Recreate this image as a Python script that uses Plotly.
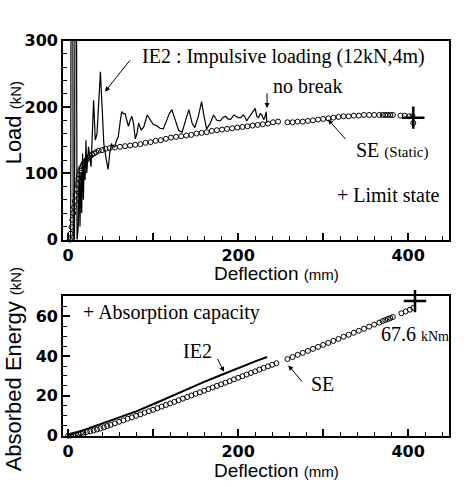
import plotly.graph_objects as go

# ---------------- data ----------------
# Top: load vs deflection
ie2_def = [0, 3, 4.5, 6, 7.5, 9, 10.5, 12, 13, 14, 15, 16, 17, 18, 19, 20, 21, 22, 24, 27,
           30, 32, 34, 36, 38, 40, 42, 45, 47, 49, 51, 53, 55, 57, 59, 61, 63, 65, 67, 69,
           71, 73, 75, 77, 79, 81, 83, 86, 89, 93, 96, 100, 104, 108, 112, 116, 119, 122, 126, 130,
           134, 138, 142, 146, 149, 153, 157, 160, 163, 167, 171, 175, 179, 182, 185, 188, 191, 195, 198, 200,
           203, 206, 208, 210, 213, 216, 220, 222, 224, 226, 228, 230, 231.5, 233, 233.7]
ie2_load = [0, 0, 1186, 0, 0, 900, 0, 20, 110, 20, 100, 40, 130, 60, 120, 90, 150, 100, 140, 110,
            210, 150, 160, 200, 253, 200, 145, 120, 106, 130, 145, 140, 140, 150, 155, 175, 193, 190, 190, 180,
            171, 180, 186, 175, 152, 160, 176, 165, 170, 188, 182, 174, 172, 168, 167, 180, 190, 196, 180, 165,
            162, 180, 196, 175, 169, 185, 208, 185, 167, 175, 188, 180, 179, 184, 186, 182, 181, 188, 186, 184,
            184, 188, 185, 179, 185, 191, 198, 186, 184, 190, 188, 181, 185, 193, 176]

se_def = [2, 3, 4, 5, 6, 7, 8, 9, 10, 11, 12, 13, 14, 15.5, 17, 18.5, 20, 22, 24, 26,
          28, 30.5, 33, 36, 40, 44, 49, 55, 61, 67, 73, 79, 85, 91, 97, 103, 109, 115, 121, 127,
          133, 139, 145, 151, 157, 163, 169, 175, 181, 187, 193, 199, 205, 211, 217, 223, 229, 235, 241, 247,
          258, 264, 270, 276, 282, 288, 294, 300, 306, 312, 318, 324, 330, 336, 342, 348, 354, 360, 366, 370,
          373, 376, 379, 382, 391, 396, 401, 405, 406]
se_load = [0, 9, 19, 30, 40, 49, 58, 67, 76, 84, 92, 98, 104, 108, 112, 115, 118, 121, 124, 126,
           128, 130, 132, 134, 135, 137, 138, 139, 140, 141, 142, 143, 144, 146, 147, 149, 150, 152, 154, 155,
           156, 157, 158, 160, 161, 162, 164, 165, 166, 167, 168, 169, 170, 171, 172, 173, 174, 175, 177, 178,
           177, 177, 178, 178, 179, 180, 181, 182, 183, 184, 185, 186, 186, 187, 187, 188, 188, 188, 188, 188,
           188, 188, 188, 188, 187, 187, 186, 186, 176]

limit_def = [406]
limit_load = [184]

# Bottom: absorbed energy vs deflection
ie2_e_def = [0, 10, 20, 40, 60, 80, 100, 120, 140, 160, 180, 200, 220, 234]
ie2_e = [0, 1.5, 3, 6, 9.2, 12.2, 15.8, 19.6, 23.4, 27, 30.5, 34, 37.3, 39.5]

se_e_def = [0, 3, 6, 9, 12, 15, 18, 22, 26, 30, 34, 38, 42, 46, 50, 55, 60, 65, 70, 75,
            80, 85, 90, 95, 100, 105, 110, 115, 120, 125, 130, 135, 140, 145, 150, 155, 160, 165, 170, 175,
            180, 185, 190, 195, 200, 205, 210, 215, 220, 225, 230, 235, 240, 245,
            258, 264, 270, 276, 282, 288, 294, 300, 306, 312, 318, 324, 330, 336, 342, 348,
            354, 360, 366, 370, 373, 376, 379, 382, 392, 397, 402, 406]
se_e = [0, 0.1, 0.4, 0.7, 1.0, 1.3, 1.6, 1.9, 2.2, 2.6, 3.1, 3.6, 4.2, 4.8, 5.4, 6.2, 7.0, 7.7, 8.5, 9.2,
        10.0, 10.7, 11.5, 12.3, 13.0, 13.8, 14.6, 15.4, 16.2, 17.0, 17.8, 18.6, 19.4, 20.2, 21.0, 21.8, 22.6, 23.4, 24.2, 25.0,
        25.8, 26.6, 27.4, 28.3, 29.1, 29.9, 30.7, 31.5, 32.3, 33.2, 34.0, 34.8, 35.6, 36.4,
        38.5, 39.5, 40.6, 41.6, 42.6, 43.6, 44.6, 45.6, 46.6, 47.6, 48.6, 49.7, 50.7, 51.7, 52.7, 53.7,
        54.8, 55.8, 56.8, 57.6, 58.1, 58.6, 59.1, 59.6, 61.5, 62.4, 63.3, 64.2]

cap_def = [408]
cap_e = [67.6]

x_tickvals = [0, 100, 200, 300, 400]
x_ticktext = ["0", "", "200", "", "400"]
load_tickvals = [0, 100, 200, 300]
energy_tickvals = [0, 20, 40, 60]

# ---------------- figure ----------------
W, H = 472, 487
fig = go.Figure()

fig.add_trace(go.Scatter(x=ie2_def, y=ie2_load, mode="lines",
                         line=dict(color="black", width=1.2), xaxis="x", yaxis="y"))
fig.add_trace(go.Scatter(x=se_def, y=se_load, mode="markers", cliponaxis=False,
                         marker=dict(symbol="circle-open", size=5, color="black", line=dict(width=1)),
                         xaxis="x", yaxis="y"))
fig.add_trace(go.Scatter(x=limit_def, y=limit_load, mode="markers",
                         marker=dict(symbol="cross-thin-open", size=16, color="black",
                                     line=dict(width=2.5, color="black")),
                         xaxis="x", yaxis="y"))

fig.add_trace(go.Scatter(x=ie2_e_def, y=ie2_e, mode="lines",
                         line=dict(color="black", width=2), xaxis="x2", yaxis="y2"))
fig.add_trace(go.Scatter(x=se_e_def, y=se_e, mode="markers", cliponaxis=False,
                         marker=dict(symbol="circle-open", size=5, color="black", line=dict(width=1)),
                         xaxis="x2", yaxis="y2"))
fig.add_trace(go.Scatter(x=cap_def, y=cap_e, mode="markers", cliponaxis=False,
                         marker=dict(symbol="cross-thin-open", size=16, color="black",
                                     line=dict(width=2.5, color="black")),
                         xaxis="x2", yaxis="y2"))

tickfont = dict(family="DejaVu Sans", size=16, color="black", weight="bold")
common = dict(showline=True, mirror=True, linecolor="black", linewidth=1.6,
              showgrid=False, zeroline=False, ticks="inside", ticklen=7, tickwidth=1.5,
              tickcolor="black", tickfont=tickfont)

xdom = [63 / W, 449 / W]
fig.update_layout(
    width=W, height=H, autosize=False,
    margin=dict(l=0, r=0, t=0, b=0, pad=0),
    paper_bgcolor="white", plot_bgcolor="white", showlegend=False,
    xaxis=dict(domain=xdom, range=[-6, 448], anchor="y", tickvals=x_tickvals, ticktext=x_ticktext,
               minor=dict(tick0=0, dtick=20, ticks="inside", ticklen=4, tickwidth=1, tickcolor="black"),
               **common),
    yaxis=dict(domain=[1 - 240 / H, 1 - 33 / H], range=[0, 300], anchor="x", tickvals=load_tickvals,
               minor=dict(tick0=0, dtick=20, ticks="inside", ticklen=4, tickwidth=1, tickcolor="black"),
               **common),
    xaxis2=dict(domain=xdom, range=[-6, 448], anchor="y2", tickvals=x_tickvals, ticktext=x_ticktext,
                minor=dict(tick0=0, dtick=20, ticks="inside", ticklen=4, tickwidth=1, tickcolor="black"),
                **common),
    yaxis2=dict(domain=[1 - 444 / H, 1 - 299 / H], range=[0, 70], anchor="x2", tickvals=energy_tickvals,
                minor=dict(tick0=0, dtick=5, ticks="inside", ticklen=4, tickwidth=1, tickcolor="black"),
                **common),
)

serif = dict(family="Liberation Serif, Times New Roman, serif", size=20, color="black")
sans = dict(family="Liberation Sans, Arial, sans-serif", size=20, color="black")

ann = []
def txt(x, y, text, xref="x", yref="y", xanchor="center", font=serif, angle=0):
    ann.append(dict(x=x, y=y, xref=xref, yref=yref, text=text, showarrow=False,
                    xanchor=xanchor, yanchor="middle", font=font, textangle=angle, borderpad=0))

def arrow(x, y, ax, ay, xref="x", yref="y"):
    ann.append(dict(x=x, y=y, ax=ax, ay=ay, xref=xref, yref=yref, axref=xref, ayref=yref,
                    text="", showarrow=True, arrowhead=2, arrowsize=1, arrowwidth=1,
                    arrowcolor="black"))

# top panel
txt(74.7, 317.4, "Peak:1186kN")
txt(253.4, 276.8, "IE2 : Impulsive loading (12kN,4m)")
arrow(43.4, 223.2, 74, 272.5)
txt(281, 231.9, "no break")
arrow(234, 198.6, 234, 223)
txt(381, 134.8, "SE <span style='font-size:15px'>(Static)</span>")
arrow(305.7, 181.2, 328, 149.3)
txt(376, 68, "+ Limit state")

# bottom panel
txt(121.7, 61.9, "+ Absorption capacity", "x2", "y2")
txt(152.2, 42.7, "IE2", "x2", "y2")
arrow(183.4, 32.1, 174.8, 39.3, "x2", "y2")
txt(299.2, 25.9, "SE", "x2", "y2")
arrow(259, 35.3, 276.6, 26.5, "x2", "y2")
txt(366.9, 51.3, "67.6 <span style='font-size:14px'>kNm</span>", "x2", "y2", xanchor="left")

# axis titles
txt(13 / W, 1 - 119 / H, "Load <span style='font-size:15px'>(kN)</span>", "paper", "paper",
    font=dict(sans, size=22), angle=-90)
txt(276 / W, 1 - 275.5 / H, "Deflection <span style='font-size:15px'>(mm)</span>", "paper", "paper",
    font=dict(sans, size=19))
txt(13 / W, 1 - 375 / H, "Absorbed Energy <span style='font-size:15px'>(kN)</span>", "paper", "paper",
    font=dict(sans, size=22), angle=-90)
txt(276 / W, 1 - 480 / H, "Deflection <span style='font-size:15px'>(mm)</span>", "paper", "paper",
    font=dict(sans, size=19))

fig.update_layout(annotations=ann)
fig.write_html("out.html")
